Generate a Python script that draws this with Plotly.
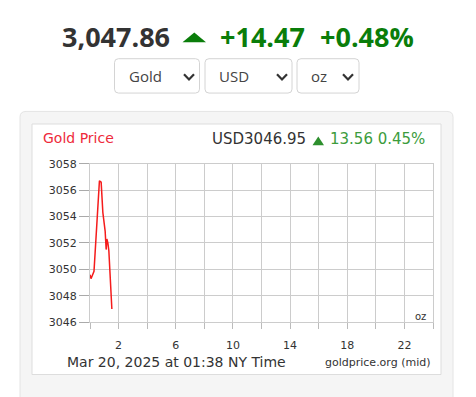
import plotly.graph_objects as go

W, H = 476, 397

# ---- data ----
hours = [0.0, 0.07, 0.28, 0.52, 0.66, 0.78, 0.90, 1.06, 1.13, 1.18, 1.25, 1.32, 1.53]
prices = [3049.6, 3049.3, 3049.85, 3054.7, 3056.7, 3056.6, 3054.3, 3052.9, 3051.5, 3052.3, 3052.0, 3051.4, 3047.0]
x_tick_vals = [0, 2, 4, 6, 8, 10, 12, 14, 16, 18, 20, 22, 24]
x_tick_text = ["", "2", "", "6", "", "10", "", "14", "", "18", "", "22", ""]
y_tick_vals = [3046, 3048, 3050, 3052, 3054, 3056, 3058]
y_tick_text = ["3046", "3048", "3050", "3052", "3054", "3056", "3058"]

header_price = "3,047.86"
header_change = "+14.47"
header_pct = "+0.48%"
chart_price = "USD3046.95"
chart_change = "13.56 0.45%"
date_text = "Mar 20, 2025 at 01:38 NY Time"
dropdowns = ["Gold", "USD", "oz"]


def px(x):
    return x / W


def py(y):
    return 1 - y / H


def rrect(x0, y0, x1, y1, r):
    pts = [
        f"M {px(x0 + r)},{py(y0)}",
        f"L {px(x1 - r)},{py(y0)}",
        f"Q {px(x1)},{py(y0)} {px(x1)},{py(y0 + r)}",
        f"L {px(x1)},{py(y1 - r)}",
        f"Q {px(x1)},{py(y1)} {px(x1 - r)},{py(y1)}",
        f"L {px(x0 + r)},{py(y1)}",
        f"Q {px(x0)},{py(y1)} {px(x0)},{py(y1 - r)}",
        f"L {px(x0)},{py(y0 + r)}",
        f"Q {px(x0)},{py(y0)} {px(x0 + r)},{py(y0)}",
        "Z",
    ]
    return " ".join(pts)


fig = go.Figure()
fig.add_trace(go.Scatter(x=hours, y=prices, mode="lines",
                         line=dict(color="#f51c1c", width=1.5),
                         hoverinfo="skip", showlegend=False))

shapes = []
# outer grey panel
shapes.append(dict(type="path", xref="paper", yref="paper", path=rrect(20, 109, 453, 420, 6),
                   fillcolor="#f5f5f5", line=dict(color="#e4e4e4", width=1), layer="below"))
# inner white chart box
shapes.append(dict(type="rect", xref="paper", yref="paper", x0=px(32), y0=py(381), x1=px(441), y1=py(122),
                   fillcolor="#ffffff", line=dict(color="#dddddd", width=1), layer="below"))
# dropdown boxes
boxes = [(114.5, 199.5), (205, 292), (297, 359)]
chev = [(184, 194), (277, 287), (343, 353)]
for (a, b), (c0, c1) in zip(boxes, chev):
    shapes.append(dict(type="path", xref="paper", yref="paper", path=rrect(a, 54.5, b, 90, 4),
                       fillcolor="#ffffff", line=dict(color="#d4d4d4", width=1), layer="below"))
    mid = (c0 + c1) / 2
    shapes.append(dict(type="path", xref="paper", yref="paper",
                       path=f"M {px(c0)},{py(70.5)} L {px(mid)},{py(76)} L {px(c1)},{py(70.5)}",
                       line=dict(color="#333333", width=2.2)))
# header triangle
shapes.append(dict(type="path", xref="paper", yref="paper",
                   path=f"M {px(182.5)},{py(37.5)} L {px(194.3)},{py(27.3)} L {px(206)},{py(37.5)} Z",
                   fillcolor="#0a7d0a", line=dict(width=0)))
# chart triangle
shapes.append(dict(type="path", xref="paper", yref="paper",
                   path=f"M {px(312.5)},{py(144)} L {px(318.3)},{py(135)} L {px(324)},{py(144)} Z",
                   fillcolor="#2d8f2d", line=dict(width=0)))

ann = []
hfont = "Open Sans"
ann.append(dict(x=px(60), y=py(32), xanchor="left", yanchor="middle", text=f"<b>{header_price}</b>",
                font=dict(family=hfont, size=27, color="#333333")))
ann.append(dict(x=px(218), y=py(32), xanchor="left", yanchor="middle", text=f"<b>{header_change}</b>",
                font=dict(family=hfont, size=27, color="#0a7d0a")))
ann.append(dict(x=px(318), y=py(32), xanchor="left", yanchor="middle", text=f"<b>{header_pct}</b>",
                font=dict(family=hfont, size=27, color="#0a7d0a")))
for (a, b), t in zip(boxes, dropdowns):
    ann.append(dict(x=px(a + 12), y=py(72), xanchor="left", yanchor="middle", text=t,
                    font=dict(family=hfont, size=15, color="#444444")))
cfont = "DejaVu Sans"
ann.append(dict(x=px(41), y=py(136.5), xanchor="left", yanchor="middle", text="Gold Price",
                font=dict(family=cfont, size=14, color="#ee2a3a")))
ann.append(dict(x=px(210), y=py(137.5), xanchor="left", yanchor="middle", text=chart_price,
                font=dict(family=cfont, size=15, color="#333333")))
ann.append(dict(x=px(328), y=py(137.5), xanchor="left", yanchor="middle", text=chart_change,
                font=dict(family=cfont, size=15, color="#3c9c3c")))
ann.append(dict(x=px(65), y=py(368), xanchor="left", yanchor="middle", text=date_text,
                font=dict(family=cfont, size=14, color="#333333")))
ann.append(dict(x=px(433), y=py(368.5), xanchor="right", yanchor="middle", text="goldprice.org (mid)",
                font=dict(family=cfont, size=11, color="#333333")))
ann.append(dict(x=px(428), y=py(321), xanchor="right", yanchor="middle", text="oz",
                font=dict(family=cfont, size=10, color="#333333")))
for a in ann:
    a.update(xref="paper", yref="paper", showarrow=False)

fig.update_layout(
    width=W, height=H, margin=dict(l=0, r=0, t=0, b=0),
    paper_bgcolor="#ffffff", plot_bgcolor="rgba(0,0,0,0)",
    shapes=shapes, annotations=ann, showlegend=False,
    xaxis=dict(domain=[px(90), px(433)], range=[0, 24], tickmode="array",
               tickvals=x_tick_vals, ticktext=x_tick_text, showgrid=True, gridcolor="#cccccc",
               gridwidth=1, zeroline=False, showline=True, mirror=True, linecolor="#cccccc",
               ticks="outside", ticklen=6, tickcolor="#bbbbbb", ticklabelstandoff=7,
               tickfont=dict(family=cfont, size=11, color="#333333"), fixedrange=True),
    yaxis=dict(domain=[py(327), py(163)], range=[3046, 3058], tickmode="array",
               tickvals=y_tick_vals, ticktext=y_tick_text, showgrid=True, gridcolor="#cccccc",
               gridwidth=1, zeroline=False, showline=True, mirror=True, linecolor="#cccccc",
               ticks="outside", ticklen=10, tickcolor="#aaaaaa",
               tickfont=dict(family=cfont, size=11, color="#333333"), fixedrange=True),
)

fig.write_html("out.html", config={"displayModeBar": False},
               post_script="document.body.style.margin='0';document.body.style.overflow='hidden';")
